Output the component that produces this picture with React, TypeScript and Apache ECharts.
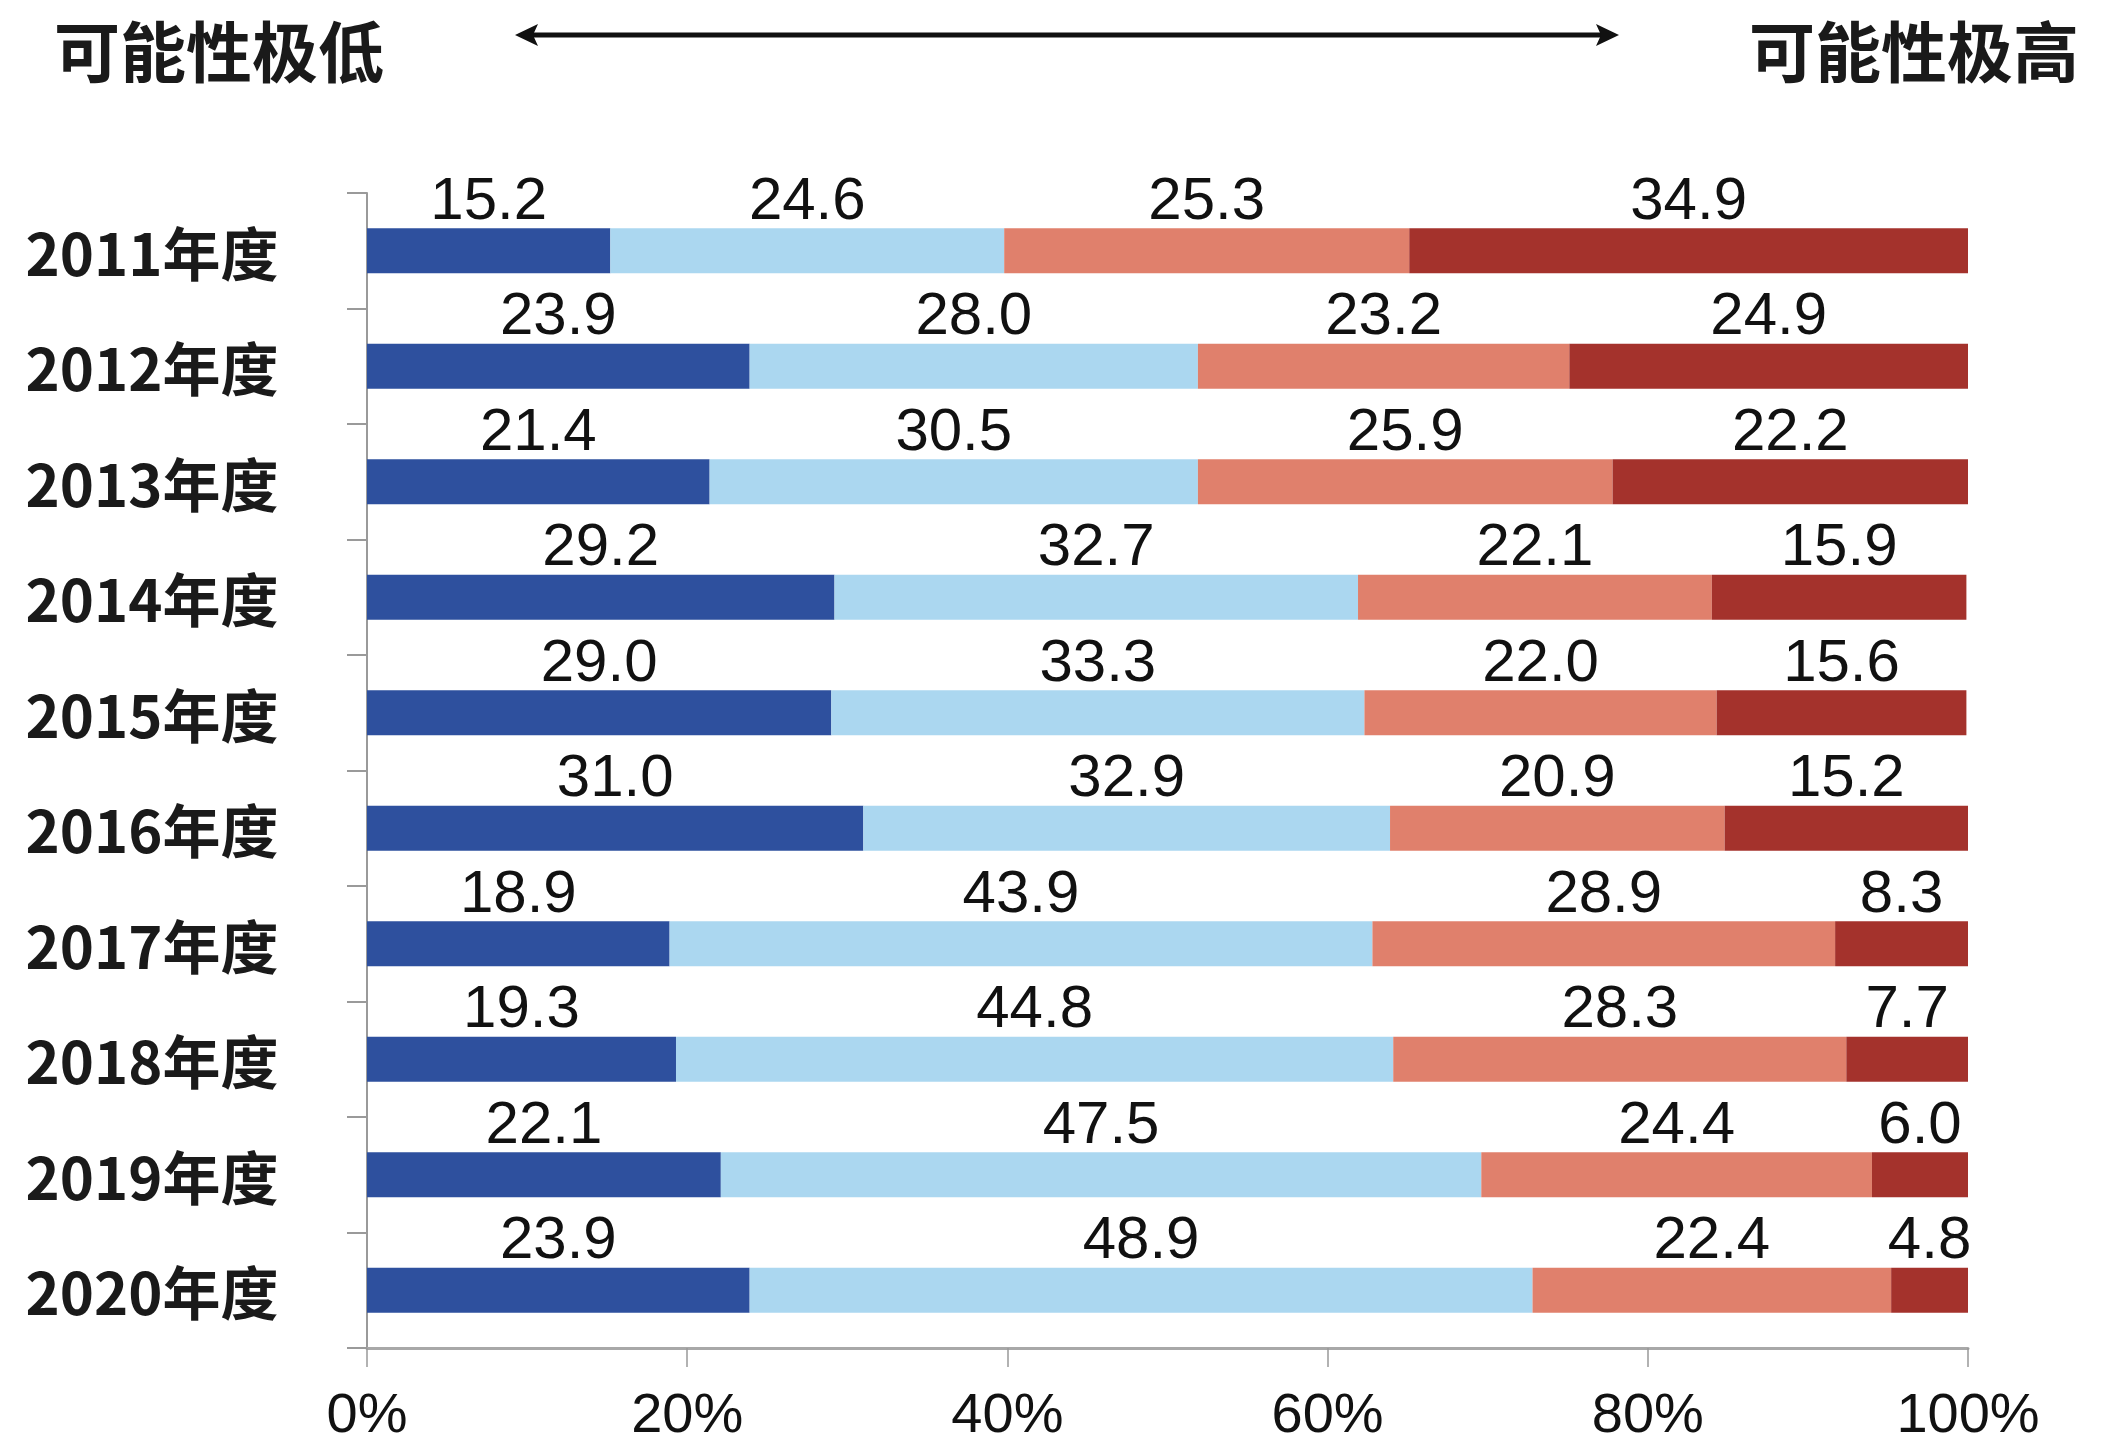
import React, { useEffect, useRef } from "react";
import * as echarts from "echarts";

const years = ["2011年度", "2012年度", "2013年度", "2014年度", "2015年度", "2016年度", "2017年度", "2018年度", "2019年度", "2020年度"];
const seriesNames = ["可能性极低", "可能性较低", "可能性较高", "可能性极高"];
const veryLow = [15.2, 23.9, 21.4, 29.2, 29.0, 31.0, 18.9, 19.3, 22.1, 23.9];
const low = [24.6, 28.0, 30.5, 32.7, 33.3, 32.9, 43.9, 44.8, 47.5, 48.9];
const high = [25.3, 23.2, 25.9, 22.1, 22.0, 20.9, 28.9, 28.3, 24.4, 22.4];
const veryHigh = [34.9, 24.9, 22.2, 15.9, 15.6, 15.2, 8.3, 7.7, 6.0, 4.8];
const xTicks = [0, 20, 40, 60, 80, 100];
const colors = ["#2E509E", "#ABD7F0", "#E0806C", "#A4322C"];

export default function App() {
  const ref = useRef<HTMLDivElement>(null);
  useEffect(() => {
    if (!ref.current) return;
    const chart = echarts.init(ref.current, undefined, { renderer: "svg" });
    const data = [veryLow, low, high, veryHigh];
    const cjk = "'Noto Sans CJK SC', 'Noto Sans CJK JP', sans-serif";
    const num = "'Liberation Sans', Arial, sans-serif";
    chart.setOption({
      animation: false,
      backgroundColor: "#ffffff",
      grid: { left: 367, right: 156, top: 193, bottom: 108, containLabel: false },
      xAxis: {
        type: "value",
        min: xTicks[0],
        max: xTicks[xTicks.length - 1],
        interval: 20,
        axisLine: { show: true, lineStyle: { color: "#a8a8a8", width: 3 } },
        axisTick: { show: true, length: 19, lineStyle: { color: "#999", width: 1.5 } },
        splitLine: { show: false },
        axisLabel: {
          formatter: "{value}%",
          fontSize: 56,
          fontFamily: num,
          color: "#111",
          margin: 36,
        },
      },
      yAxis: {
        type: "category",
        inverse: true,
        data: years,
        axisLine: { show: true, lineStyle: { color: "#9a9a9a", width: 2 } },
        axisTick: { show: true, length: 20, lineStyle: { color: "#9a9a9a", width: 2 } },
        axisLabel: {
          fontSize: 58,
          fontWeight: "bold",
          fontFamily: cjk,
          color: "#1a1a1a",
          align: "center",
          margin: 215,
        },
      },
      series: data.map((d, i) => ({
        type: "bar",
        name: seriesNames[i],
        stack: "total",
        data: d,
        barWidth: 45,
        itemStyle: { color: colors[i] },
        label: {
          show: true,
          position: "top",
          distance: 0,
          fontSize: 60,
          fontFamily: num,
          color: "#111",
          formatter: (p: any) => Number(p.value).toFixed(1),
        },
      })),
      graphic: [
        {
          type: "text",
          x: 54,
          y: 48,
          style: {
            text: "可能性极低",
            fontSize: 66,
            fontWeight: "bold",
            fontFamily: cjk,
            fill: "#1a1a1a",
            textAlign: "left",
            textVerticalAlign: "middle",
          },
        },
        {
          type: "text",
          x: 2079,
          y: 48,
          style: {
            text: "可能性极高",
            fontSize: 66,
            fontWeight: "bold",
            fontFamily: cjk,
            fill: "#1a1a1a",
            textAlign: "right",
            textVerticalAlign: "middle",
          },
        },
        {
          type: "line",
          shape: { x1: 530, y1: 35, x2: 1604, y2: 35 },
          style: { stroke: "#111", lineWidth: 5 },
        },
        {
          type: "polygon",
          shape: { points: [[515, 35], [538, 24], [533, 35], [538, 46]] },
          style: { fill: "#111" },
        },
        {
          type: "polygon",
          shape: { points: [[1619, 35], [1596, 24], [1601, 35], [1596, 46]] },
          style: { fill: "#111" },
        },
      ],
    });
    return () => chart.dispose();
  }, []);
  return <div ref={ref} style={{ position: "fixed", left: 0, top: 0, width: 2124, height: 1456 }} />;
}
